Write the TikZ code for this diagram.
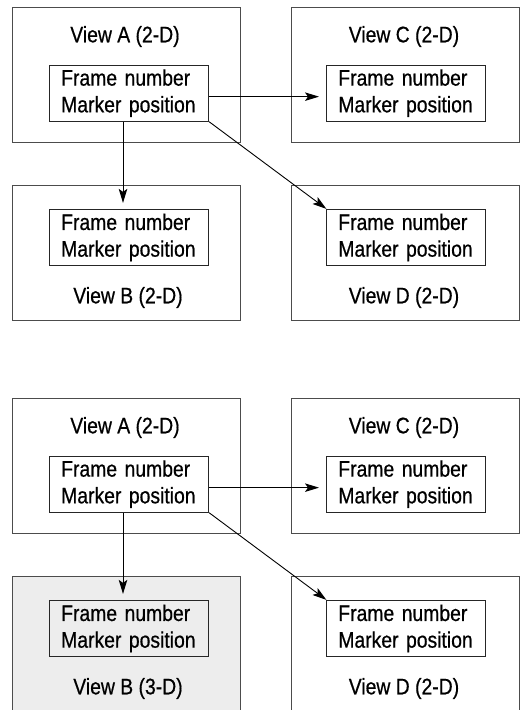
\documentclass[tikz,border=0pt]{standalone}
\usepackage{fontspec}
\setmainfont[FakeStretch=0.86,FakeBold=0.6]{Liberation Sans}
\usetikzlibrary{arrows.meta}
\tikzset{
  outerbox/.style={draw=black!70, line width=0.9pt, minimum width=228pt, minimum height=135pt, inner sep=0pt},
  innerbox/.style={draw=black!85, line width=0.9pt, minimum width=159pt, minimum height=56.3pt,
    inner xsep=11.5pt, inner ysep=0pt, text width=136pt, align=left,
    font=\fontsize{22.5}{26.7}\selectfont},
  viewtitle/.style={anchor=base, inner sep=0pt, font=\fontsize{22.5}{26.7}\selectfont},
  arr/.style={-{Stealth[length=14pt,width=8.5pt,inset=3pt]}, line width=0.9pt},
}
\newcommand\drawviewpanel[4]{%
  \begin{scope}[yshift=-#2pt]
    \node[outerbox] (oa#1) at (126,74.8) {};
    \node[outerbox] (oc#1) at (405,74.8) {};
    \node[outerbox,fill=#4] (ob#1) at (126,253.2) {};
    \node[outerbox] (od#1) at (405,253.2) {};
    \node[viewtitle] (ta#1) at (125,42.3) {View A (2-D)};
    \node[viewtitle] (tc#1) at (404,42.3) {View C (2-D)};
    \node[viewtitle] (tb#1) at (128,303.3) {View B (#3)};
    \node[viewtitle] (td#1) at (404,303.3) {View D (2-D)};
    \node[innerbox] (ia#1) at (129.2,93.15) {Frame number\\Marker position};
    \node[innerbox] (ic#1) at (406.35,93.15) {Frame number\\Marker position};
    \node[innerbox] (ib#1) at (129.2,237.5) {Frame number\\Marker position};
    \node[innerbox] (id#1) at (406.35,237.5) {Frame number\\Marker position};
    \draw[arr, shorten >=7.4pt] ([yshift=-3.5pt]ia#1.east) -- ([yshift=-3.5pt]ic#1.west);
    \draw[arr, shorten >=6pt] ([xshift=-6.2pt]ia#1.south) -- ([xshift=-6.2pt]ib#1.north);
    \draw[arr] (ia#1.south east) -- (id#1.north west);
  \end{scope}%
}
\begin{document}
\begin{tikzpicture}[x=1pt,y=-1pt]
  \useasboundingbox (0,0) rectangle (523,710);
  \clip (0,0) rectangle (523,710);
  \drawviewpanel{t}{0}{2-D}{white}
  \drawviewpanel{b}{391}{3-D}{black!7}
\end{tikzpicture}
\end{document}
